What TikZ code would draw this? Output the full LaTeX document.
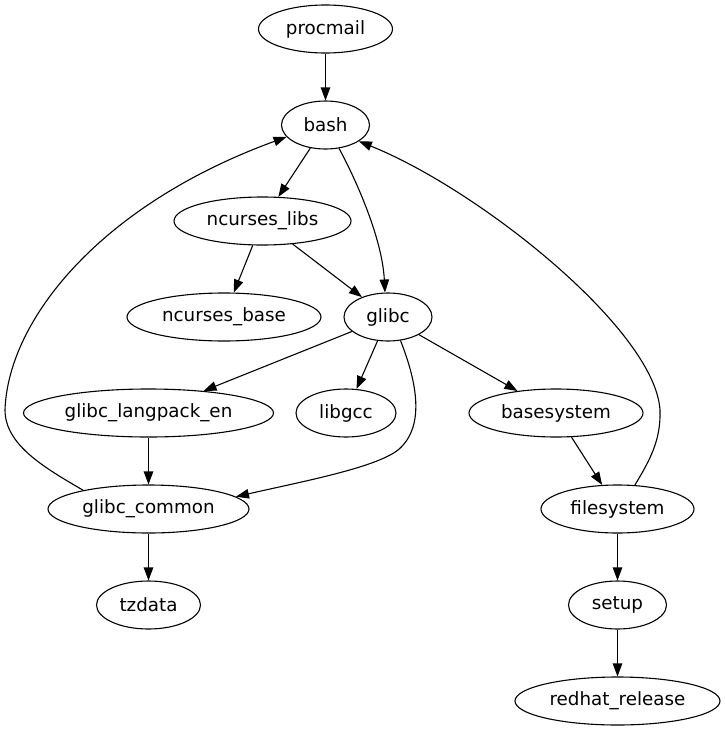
\documentclass[tikz,border=0pt]{standalone}
\usepackage{fontspec}
\setmainfont{DejaVu Sans}
\usetikzlibrary{shapes.geometric,arrows.meta}
\begin{document}
\begin{tikzpicture}[x=1pt,y=-1pt,
  nd/.style={draw, ellipse, line width=1.1pt, inner sep=0pt, minimum height=48pt,
             font=\fontsize{18.3}{22}\selectfont},
  arr/.style={line width=1.1pt, -{Triangle[length=13pt,width=9.5pt]}}]
\useasboundingbox[fill=white] (0,0) rectangle (725,731);
\node[nd, minimum width=134pt] (procmail) at (325.5,29) {procmail};
\node[nd, minimum width=88pt] (bash) at (325.5,125) {bash};
\node[nd, minimum width=177pt] (ncurseslibs) at (262.5,221) {ncurses\_libs};
\node[nd, minimum width=194pt] (ncursesbase) at (224,317) {ncurses\_base};
\node[nd, minimum width=88pt] (glibc) at (388,317) {glibc};
\node[nd, minimum width=250pt] (langpack) at (148.5,413) {glibc\_langpack\_en};
\node[nd, minimum width=100pt] (libgcc) at (346,413) {libgcc};
\node[nd, minimum width=174pt] (basesystem) at (556,413) {basesystem};
\node[nd, minimum width=201pt] (common) at (148.5,509) {glibc\_common};
\node[nd, minimum width=153pt] (filesystem) at (617.5,509) {filesystem};
\node[nd, minimum width=104pt] (tzdata) at (148.5,605) {tzdata};
\node[nd, minimum width=98pt] (setup) at (617.5,605) {setup};
\node[nd, minimum width=205pt] (redhat) at (617.5,701) {redhat\_release};

\draw[arr] (procmail) -- (bash);
\draw[arr] (bash) -- (ncurseslibs);
\draw[arr] (bash.-60) .. controls (352,172) and (382,235) .. (glibc.97);
\draw[arr] (ncurseslibs) -- (ncursesbase);
\draw[arr] (ncurseslibs) -- (glibc);
\draw[arr] (glibc) -- (langpack);
\draw[arr] (glibc) -- (libgcc);
\draw[arr] (glibc) -- (basesystem);
\draw[arr] (glibc.-62) .. controls (414,375) and (428,425) .. (398,450)
                      .. controls (375,468) and (300,482) .. (common.8);
\draw[arr] (langpack) -- (common);
\draw[arr] (common.164) .. controls (45,468) and (5,445) .. (5,410)
                       .. controls (8,320) and (100,205) .. (bash.197);
\draw[arr] (common) -- (tzdata);
\draw[arr] (basesystem) -- (filesystem);
\draw[arr] (filesystem.54) .. controls (650,460) and (661,440) .. (660,410)
                           .. controls (655,330) and (480,190) .. (bash.-26);
\draw[arr] (filesystem) -- (setup);
\draw[arr] (setup) -- (redhat);
\end{tikzpicture}
\end{document}
